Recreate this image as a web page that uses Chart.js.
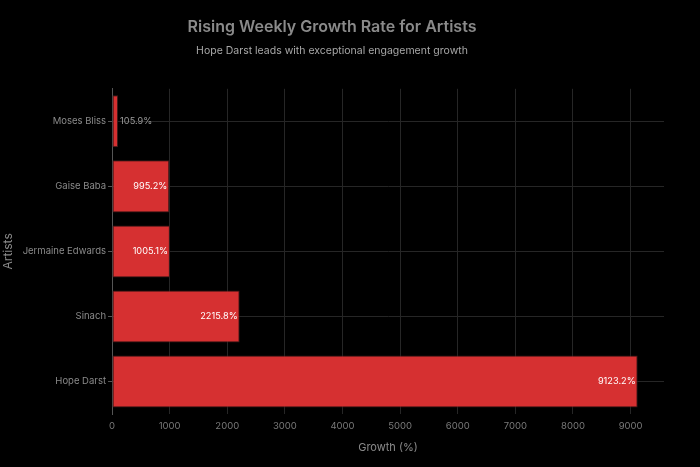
<!DOCTYPE html>
<html>
<head>
<meta charset="utf-8">
<script src="https://cdn.jsdelivr.net/npm/chart.js@4"></script>
<style>
  html, body { margin: 0; padding: 0; background: #000; }
  #wrap { width: 700px; height: 467px; }
</style>
</head>
<body>
<div id="wrap"><canvas id="growthChart"></canvas></div>
<script>
// data
const artists = ["Moses Bliss", "Gaise Baba", "Jermaine Edwards", "Sinach", "Hope Darst"];
const growth = [105.9, 995.2, 1005.1, 2215.8, 9123.2];
const xTicks = [0, 1000, 2000, 3000, 4000, 5000, 6000, 7000, 8000, 9000];

// value labels: inside the bar end when it fits, else just outside
const barLabels = {
  id: 'barLabels',
  afterDatasetsDraw(chart) {
    const ctx = chart.ctx;
    const meta = chart.getDatasetMeta(0);
    ctx.save();
    ctx.font = '9.2px Inter';
    ctx.textBaseline = 'middle';
    meta.data.forEach((bar, i) => {
      const txt = growth[i].toFixed(1) + '%';
      const w = ctx.measureText(txt).width;
      const len = bar.x - bar.base;
      if (len > w + 8) {
        ctx.fillStyle = '#ffffff';
        ctx.textAlign = 'right';
        ctx.fillText(txt, bar.x - 2, bar.y);
      } else {
        ctx.fillStyle = '#9a9a9a';
        ctx.textAlign = 'left';
        ctx.fillText(txt, bar.x + 2, bar.y);
      }
    });
    ctx.restore();
  }
};

new Chart(document.getElementById('growthChart'), {
  type: 'bar',
  data: {
    labels: artists,
    datasets: [{
      data: growth,
      backgroundColor: '#d63031',
      borderColor: '#3a1a1a',
      borderWidth: 1,
      borderSkipped: false,
      categoryPercentage: 0.8,
      barPercentage: 1
    }]
  },
  options: {
    indexAxis: 'y',
    responsive: true,
    maintainAspectRatio: false,
    animation: false,
    layout: { padding: { left: 0, right: 36, top: 0, bottom: 13 } },
    plugins: {
      legend: { display: false },
      tooltip: { enabled: false },
      title: {
        display: true,
        text: 'Rising Weekly Growth Rate for Artists',
        color: '#8a8a8a',
        font: { family: 'Inter', size: 16, weight: '600' },
        padding: { top: 18, bottom: 7 }
      },
      subtitle: {
        display: true,
        text: 'Hope Darst leads with exceptional engagement growth',
        color: '#a8a8a8',
        font: { family: 'Inter', size: 10.5 },
        padding: { bottom: 32 }
      }
    },
    scales: {
      x: {
        min: 0,
        max: 9580,
        afterBuildTicks: axis => { axis.ticks = xTicks.map(v => ({ value: v })); },
        afterFit: axis => { axis.height = 40; },
        grid: { color: '#262626', drawTicks: false },
        border: { display: false },
        ticks: {
          color: '#7a7a7a', font: { family: 'Inter', size: 9.5 }, padding: 6,
          callback: v => String(v)
        },
        title: {
          display: true, text: 'Growth (%)', color: '#8a8a8a',
          font: { family: 'Inter', size: 11 }, padding: { top: 0, bottom: 0 }
        }
      },
      y: {
        afterFit: axis => { axis.width = 112; },
        grid: { color: '#262626', offset: false, tickColor: '#555', tickLength: 4 },
        border: { color: '#555' },
        ticks: { color: '#8a8a8a', font: { family: 'Inter', size: 9.5 }, padding: 2 },
        title: {
          display: true, text: 'Artists', color: '#8a8a8a',
          font: { family: 'Inter', size: 12 }, padding: { top: 1, bottom: 0 }
        }
      }
    }
  },
  plugins: [barLabels]
});
</script>
</body>
</html>
